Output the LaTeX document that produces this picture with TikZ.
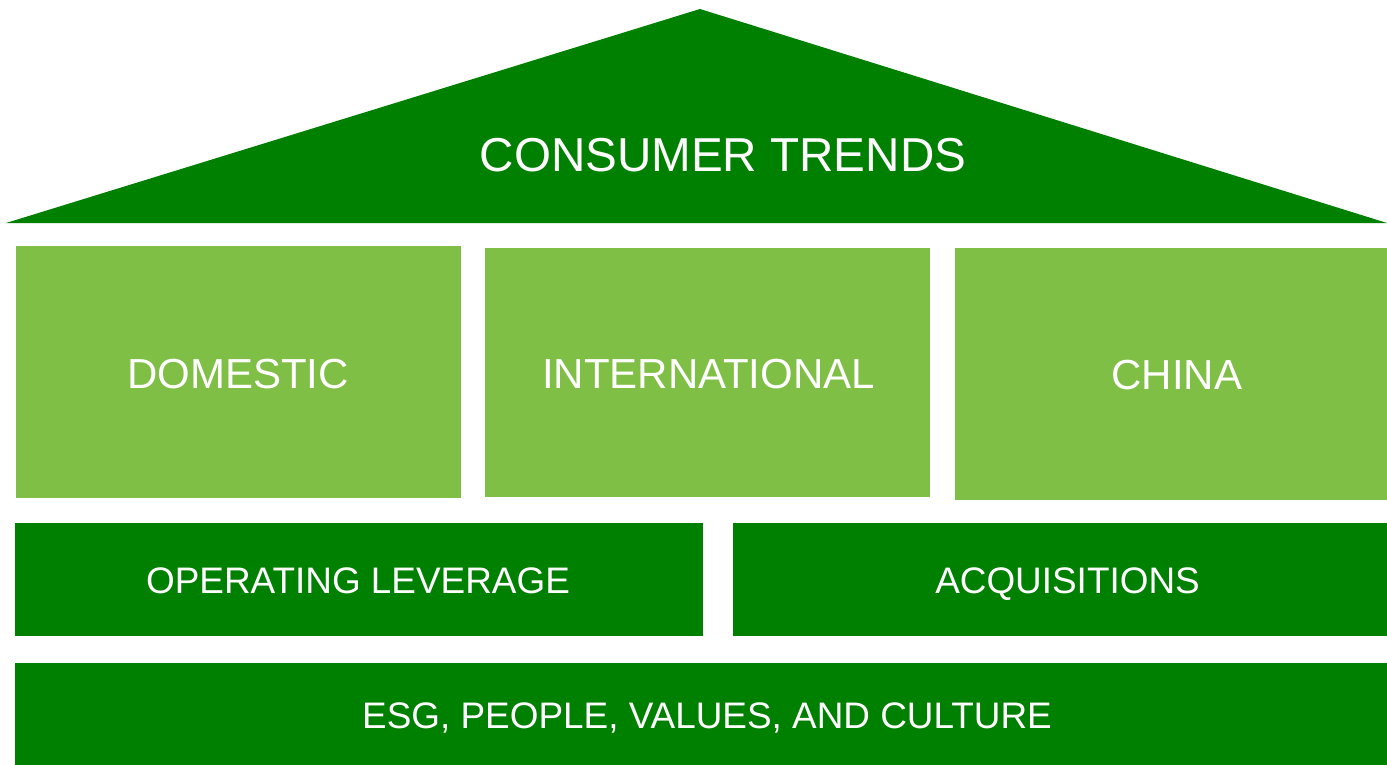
\documentclass[tikz,border=0pt]{standalone}
\usepackage{fontspec}
\setmainfont{Liberation Sans}
\definecolor{darkg}{HTML}{008000}
\definecolor{lightg}{HTML}{7FBF45}
\begin{document}
\begin{tikzpicture}[x=1pt,y=-1pt,
  lbl/.style={text=white, inner sep=0pt, anchor=base}]
\useasboundingbox (0,0) rectangle (1387,765);
% roof
\coordinate (rl) at (6,223);
\coordinate (rt) at (700,9);
\coordinate (rr) at (1387,223);
\fill[darkg] (rl) -- (rt) -- (rr) -- cycle;
\node[lbl, font=\fontsize{47.6}{50}\selectfont] (roof) at (723,171.7) {CONSUMER TRENDS};
% pillars
\fill[lightg] (16,246) rectangle (461,497.5);
\fill[lightg] (485,248) rectangle (930,496.5);
\fill[lightg] (955,248) rectangle (1387,499.5);
\node[lbl, font=\fontsize{42}{46}\selectfont] (dom) at (238,388.5) {DOMESTIC};
\node[lbl, font=\fontsize{42}{46}\selectfont] (intl) at (708.5,388.5) {INTERNATIONAL};
\node[lbl, font=\fontsize{42}{46}\selectfont] (china) at (1177,389) {CHINA};
% beams
\fill[darkg] (15,522.7) rectangle (703,636);
\fill[darkg] (733,522.7) rectangle (1387,636);
\node[lbl, font=\fontsize{36.9}{40}\selectfont] (oper) at (358,593.5) {OPERATING LEVERAGE};
\node[lbl, font=\fontsize{36.9}{40}\selectfont] (acq) at (1067.5,593.5) {ACQUISITIONS};
% foundation
\fill[darkg] (15,662.7) rectangle (1387,765);
\node[lbl, font=\fontsize{36.9}{40}\selectfont] (esg) at (707,728.5) {ESG, PEOPLE, VALUES, AND CULTURE};
\end{tikzpicture}
\end{document}
